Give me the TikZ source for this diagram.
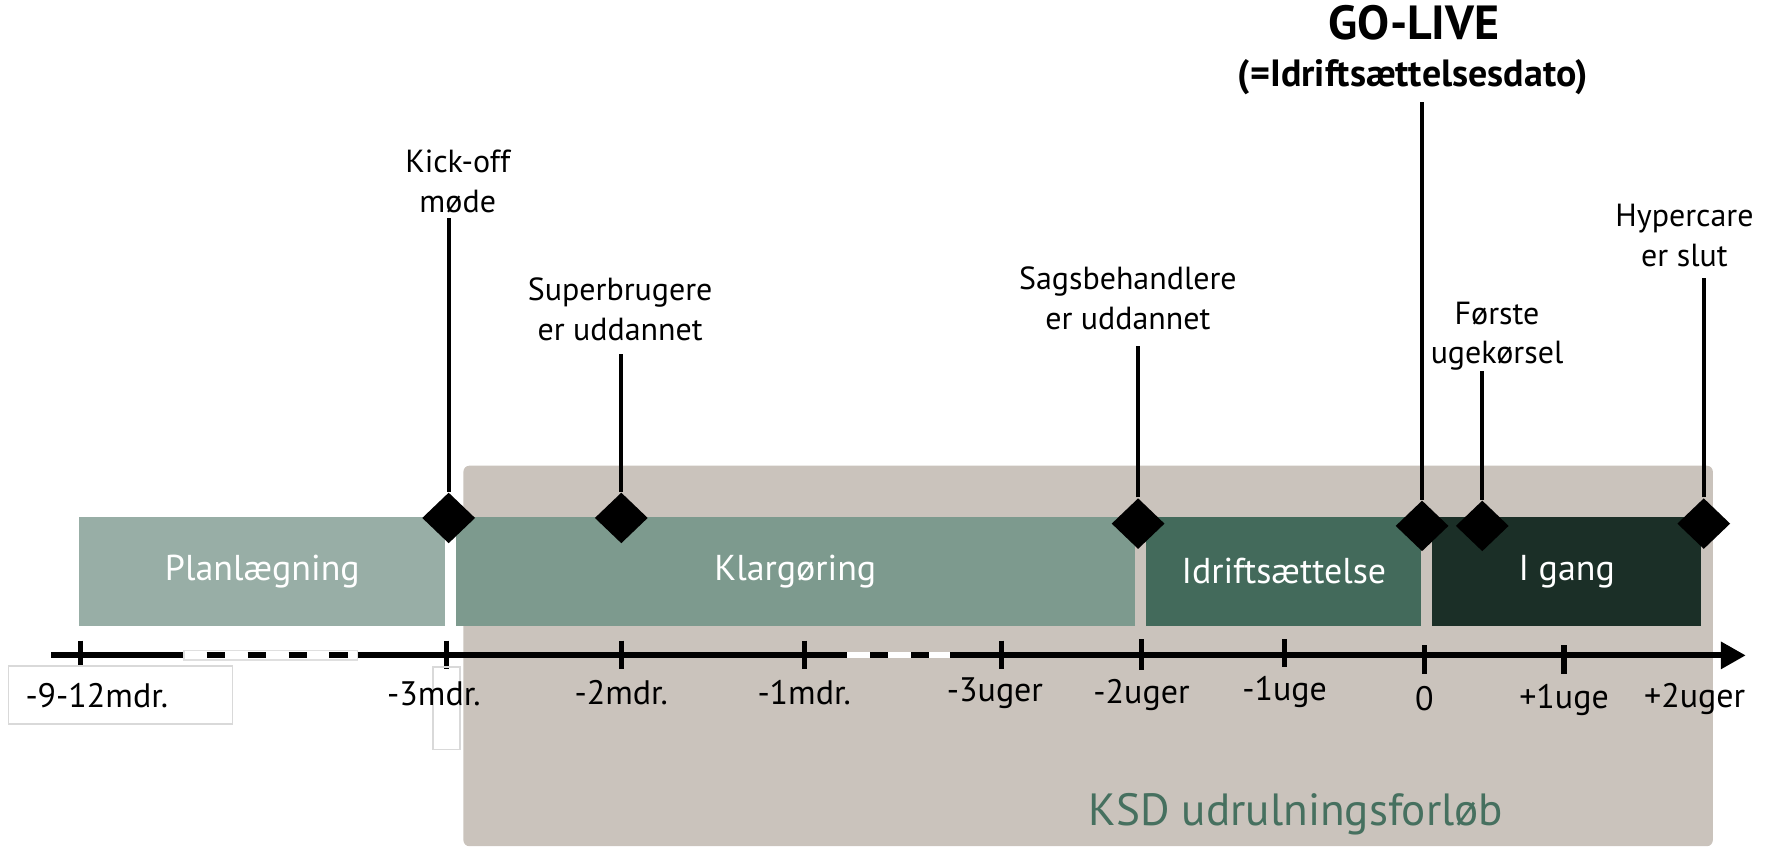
\documentclass[tikz,border=0pt]{standalone}
\usepackage{fontspec}
\setmainfont{PT Sans}
\usetikzlibrary{shapes.geometric, arrows.meta, positioning}
\definecolor{planc}{HTML}{98AEA6}
\definecolor{klarc}{HTML}{7D9A8E}
\definecolor{driftc}{HTML}{436A5B}
\definecolor{gangc}{HTML}{1B2F27}
\definecolor{ksdgray}{HTML}{CAC3BC}
\definecolor{ksdgreen}{HTML}{46705F}
\tikzstyle{phase} = [rectangle, minimum height=0.96cm, text=white,
    font=\fontsize{9}{11}\selectfont, inner sep=0pt]
\tikzstyle{milestone} = [diamond, fill=black, minimum width=0.47cm,
    minimum height=0.45cm, inner sep=0pt]
\tikzstyle{mtext} = [align=center, font=\fontsize{8}{10}\selectfont, inner sep=0pt]
\tikzstyle{ticktext} = [font=\fontsize{8.5}{10}\selectfont, inner sep=0pt]
\tikzstyle{line} = [draw, line width=1pt]
\tikzstyle{tickmark} = [draw, line width=1.3pt]

\begin{document}
\begin{tikzpicture}[x=0.01cm, y=-0.01cm]
            \useasboundingbox (0,0) rectangle (1568,745);
            % Background
            \fill [ksdgray, rounded corners=1.5pt] (408,410) rectangle (1508,745);
            \node [text=ksdgreen, font=\fontsize{11.3}{13}\selectfont, inner sep=0pt] (ksd) at (1141,717) {KSD udrulningsforløb};
            % Place nodes
            \node [phase, fill=planc, minimum width=3.22cm] (plan) at (231,503) {Planlægning};
            \node [phase, fill=klarc, minimum width=5.97cm, right=0.08cm of plan] (klar) {Klargøring};
            \node [phase, fill=driftc, minimum width=2.42cm, right=0.09cm of klar] (drift) {Idriftsættelse};
            \node [phase, fill=gangc, minimum width=2.37cm, right=0.08cm of drift] (gang) {I gang};
            % Time axis
            \coordinate (axstart) at (45,577);
            \coordinate (axend) at (1537,577);
            \draw [line width=1.5pt, -{Triangle[length=0.22cm, width=0.23cm]}] (axstart) -- (axend);
            \draw [gray!25, line width=0.3pt, fill=white] (162,573) rectangle (315,581);
            \draw [line width=1.5pt, dash pattern=on 0.16cm off 0.2cm, dash phase=-0.2cm] (162,577) -- (315,577);
            \draw [white, line width=1.5pt, dash pattern=on 0.2cm off 0.16cm] (746,577) -- (836,577);
            \path [tickmark] (71,564) -- (71,589);
            \path [tickmark] (393,564) -- (393,589);
            \path [tickmark] (547,564) -- (547,589);
            \path [tickmark] (708,564) -- (708,589);
            \path [tickmark] (882,564) -- (882,589);
            \path [tickmark] (1005,563) -- (1005,590);
            \path [tickmark] (1131,563) -- (1131,587);
            \path [tickmark] (1254,568) -- (1254,593);
            \path [tickmark] (1377,568) -- (1377,593);
            % Tick labels
            \node [ticktext, draw=gray!30, fill=white, text width=1.67cm, align=left,
                inner xsep=0.15cm, minimum height=0.51cm] (t1) at (106,612) {-9-12mdr.};
            \draw [gray!30, line width=0.4pt] (381,587) rectangle (405,660);
            \node [ticktext] (t2) at (382,611) {-3mdr.};
            \node [ticktext] (t3) at (547,610) {-2mdr.};
            \node [ticktext] (t4) at (708,610) {-1mdr.};
            \node [ticktext] (t5) at (876,610) {-3uger};
            \node [ticktext] (t6) at (1005,612) {-2uger};
            \node [ticktext] (t7) at (1131,609) {-1uge};
            \node [ticktext] (t8) at (1254,615) {0};
            \node [ticktext] (t9) at (1377,616) {+1uge};
            \node [ticktext] (t10) at (1492,615) {+2uger};
            % Milestones
            \node [milestone] (kickd) at (395,456) {};
            \node [milestone] (superd) at (547,456) {};
            \node [milestone] (sagsd) at (1002,461) {};
            \node [milestone] (golived) at (1252,463) {};
            \node [milestone] (firstd) at (1305,463) {};
            \node [milestone] (hyperd) at (1500,461) {};
            \node [mtext] (kick) at (403,160) {Kick-off\\møde};
            \node [mtext] (super) at (546,272) {Superbrugere\\er uddannet};
            \node [mtext] (sags) at (993,263) {Sagsbehandlere\\er uddannet};
            \node [mtext] (first) at (1318,296) {Første\\ugekørsel};
            \node [mtext] (hyper) at (1483,207) {Hypercare\\er slut};
            \node [font=\fontsize{12}{14}\selectfont\bfseries, inner sep=0pt] (golive) at (1245,20) {GO-LIVE};
            \node [font=\fontsize{9.5}{11}\selectfont\bfseries, inner sep=0pt] (golivedate) at (1244,68) {(=Idriftsættelsesdato)};
            % Draw edges
            \path [line] (kickd) -- (kickd |- 0,192);
            \path [line] (superd) -- (superd |- 0,312);
            \path [line] (sagsd) -- (sagsd |- 0,305);
            \path [line] (golived) -- (golived |- 0,90);
            \path [line] (firstd) -- (firstd |- 0,327);
            \path [line] (hyperd) -- (hyperd |- 0,245);
\end{tikzpicture}
\end{document}
